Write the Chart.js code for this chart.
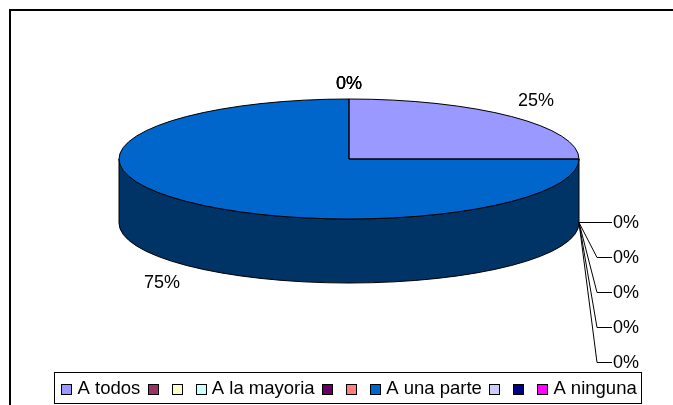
<!DOCTYPE html>
<html>
<head>
<meta charset="utf-8">
<style>
  html, body { margin: 0; padding: 0; background: #fff; }
  #wrap { width: 673px; height: 405px; overflow: hidden; }
</style>
<script src="https://cdn.jsdelivr.net/npm/chart.js@4"></script>
</head>
<body>
<div id="wrap"><canvas id="pieChart" width="673" height="405"></canvas></div>
<script>
const categories = ['A todos', '', '', 'A la mayoria', '', '', 'A una parte', '', '', 'A ninguna'];
const shares = [25, 0, 0, 0, 0, 0, 75, 0, 0, 0];
const sliceColors = ['#9999FF', '#993366', '#FFFFCC', '#CCFFFF', '#660066', '#FF8080', '#0066CC', '#CCCCFF', '#000080', '#FF00FF'];
const sideColor = '#003366';

const FAMILY = '"Liberation Sans", Arial, sans-serif';
const pieX = 349, pieY = 159, pieRadius = 230, flatten = 60 / 230, depth = 64;

// Chart.js has no 3D pie, so the arcs get squashed and the wall is drawn under them
const tiltPlugin = {
    id: 'tilt',
    beforeDraw(chart) {
        // frame runs off the right and bottom of the picture
        const ctx = chart.ctx;
        ctx.save();
        ctx.strokeStyle = '#000';
        ctx.lineWidth = 2;
        ctx.strokeRect(10, 10, 700, 420);
        ctx.restore();
    },
    beforeDatasetsDraw(chart) {
        const ctx = chart.ctx;
        const arcs = chart.getDatasetMeta(0).data;
        ctx.save();
        ctx.fillStyle = sideColor;
        ctx.strokeStyle = '#000';
        ctx.lineWidth = 1;
        arcs.forEach(arc => {
            const from = Math.max(arc.startAngle, 0);
            const to = Math.min(arc.endAngle, Math.PI);
            if (arc.circumference === 0 || to <= from) return;
            ctx.beginPath();
            ctx.ellipse(pieX, pieY, pieRadius, pieRadius * flatten, 0, from, to);
            ctx.ellipse(pieX, pieY + depth, pieRadius, pieRadius * flatten, 0, to, from, true);
            ctx.closePath();
            ctx.fill();
            ctx.stroke();
        });
        ctx.restore();
        ctx.save();
        ctx.translate(pieX, pieY);
        ctx.scale(1, flatten);
        ctx.translate(-arcs[0].x, -arcs[0].y);
    },
    afterDatasetsDraw(chart) {
        const ctx = chart.ctx;
        const arcs = chart.getDatasetMeta(0).data;
        ctx.restore();

        // outline in screen space so the squash does not thin the line
        ctx.save();
        ctx.strokeStyle = '#000';
        ctx.lineWidth = 1;
        arcs.forEach(arc => {
            if (arc.circumference === 0) return;
            ctx.beginPath();
            ctx.moveTo(pieX, pieY);
            ctx.ellipse(pieX, pieY, pieRadius, pieRadius * flatten, 0, arc.startAngle, arc.endAngle);
            ctx.closePath();
            ctx.stroke();
        });
        ctx.restore();

        drawLabels(chart, arcs);
    },
    afterDraw(chart) {
        drawLegendBox(chart);
    }
};

function drawLabels(chart, arcs) {
    const ctx = chart.ctx;
    const startX = pieX + pieRadius, startY = pieY + depth - 0.5;
    let rightRow = 0;
    ctx.save();
    ctx.font = '18px ' + FAMILY;
    ctx.fillStyle = '#000';
    ctx.strokeStyle = '#000';
    ctx.lineWidth = 1;
    ctx.textBaseline = 'middle';
    arcs.forEach((arc, i) => {
        const text = shares[i] + '%';
        if (shares[i] > 0) {
            const mid = (arc.startAngle + arc.endAngle) / 2;
            const x = pieX + pieRadius * Math.cos(mid) * 1.15;
            const front = Math.sin(mid) > 0 ? depth : 0;
            const y = pieY + pieRadius * flatten * Math.sin(mid) * 1.39 + front;
            ctx.textAlign = 'center';
            ctx.fillText(text, x, y + 1);
        } else if (Math.abs(Math.cos(arc.startAngle)) < 0.01) {
            // empty slices at 12 o'clock pile up on one spot
            ctx.textAlign = 'center';
            ctx.fillText(text, pieX, pieY - 75);
        } else {
            // empty slices at 3 o'clock get stacked labels with leader lines
            const y = startY + rightRow * 35;
            ctx.beginPath();
            ctx.moveTo(startX, startY);
            ctx.lineTo(startX + 18, y);
            ctx.lineTo(startX + 33, y);
            ctx.stroke();
            ctx.textAlign = 'left';
            ctx.fillText(text, startX + 34, y + 1);
            rightRow++;
        }
    });
    ctx.restore();
}

// legend box hugs the items, and swatches are wider than the gap Chart.js leaves for them
function drawLegendBox(chart) {
    const ctx = chart.ctx;
    const hits = chart.legend.legendHitBoxes;
    const left = hits[0].left - 7;
    const right = hits[hits.length - 1].left + hits[hits.length - 1].width + 5;
    const top = hits[0].top - 8;
    const bottom = hits[0].top + hits[0].height + 4;
    ctx.save();
    ctx.strokeStyle = '#000';
    ctx.lineWidth = 1;
    ctx.strokeRect(Math.round(left) + 0.5, Math.round(top) + 0.5, Math.round(right - left), Math.round(bottom - top));
    hits.forEach((hit, i) => {
        ctx.fillStyle = sliceColors[i];
        const y = Math.round(hit.top + hit.height / 2 - 5) + 0.5;
        ctx.fillRect(Math.round(hit.left) + 0.5, y, 10, 10);
        ctx.strokeRect(Math.round(hit.left) + 0.5, y, 10, 10);
    });
    ctx.restore();
}

new Chart(document.getElementById('pieChart'), {
    type: 'pie',
    data: {
        labels: categories,
        datasets: [{
            data: shares,
            backgroundColor: sliceColors,
            borderWidth: 0
        }]
    },
    options: {
        responsive: false,
        animation: false,
        radius: pieRadius,
        layout: { padding: { left: 25, bottom: -3 } },
        plugins: {
            tooltip: { enabled: false },
            legend: {
                position: 'bottom',
                labels: {
                    boxWidth: 7,
                    boxHeight: 7,
                    padding: 7.6,
                    color: '#000',
                    font: { family: FAMILY, size: 18.5 },
                    generateLabels() {
                        return categories.map((name, i) => ({
                            text: name,
                            fillStyle: 'rgba(0,0,0,0)',
                            strokeStyle: 'rgba(0,0,0,0)',
                            lineWidth: 0,
                            index: i
                        }));
                    }
                }
            }
        }
    },
    plugins: [tiltPlugin]
});
</script>
</body>
</html>
